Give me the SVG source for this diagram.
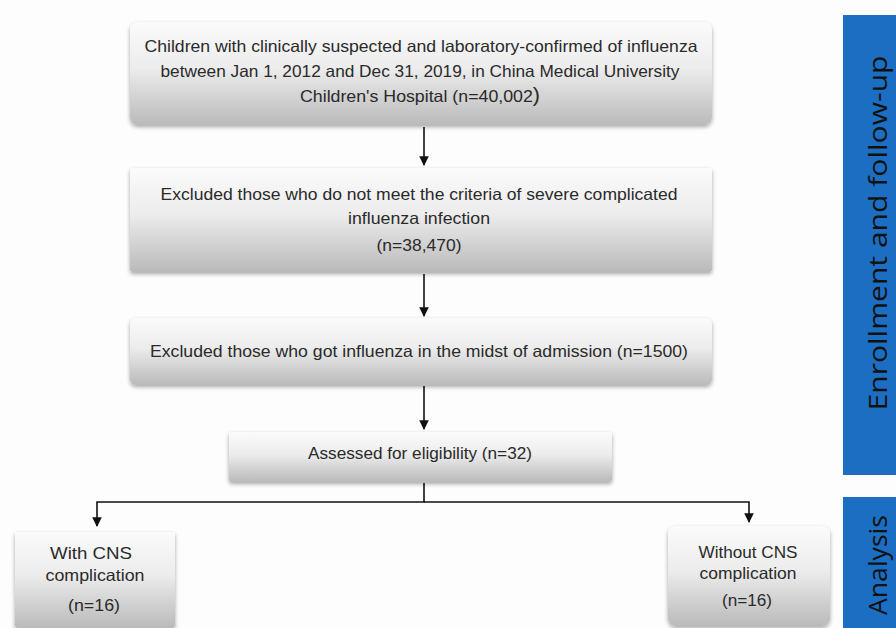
<svg xmlns="http://www.w3.org/2000/svg" width="896" height="628" viewBox="0 0 896 628">
<defs>
<linearGradient id="g" x1="0" y1="0" x2="0" y2="1">
<stop offset="0" stop-color="#fbfbfb"/>
<stop offset="0.45" stop-color="#ececec"/>
<stop offset="1" stop-color="#bababa"/>
</linearGradient>
<filter id="sh" x="-5%" y="-10%" width="110%" height="130%">
<feGaussianBlur in="SourceAlpha" stdDeviation="2"/>
<feOffset dx="0" dy="2" result="b"/>
<feComponentTransfer><feFuncA type="linear" slope="0.35"/></feComponentTransfer>
<feMerge><feMergeNode/><feMergeNode in="SourceGraphic"/></feMerge>
</filter>
<marker id="ah" viewBox="0 0 10 10" refX="9" refY="5" markerWidth="6" markerHeight="6" orient="auto" markerUnits="strokeWidth">
<path d="M0,0 L10,5 L0,10 z" fill="#111"/>
</marker>
<style>
.box{fill:url(#g);filter:url(#sh);}
.t{font-family:"Liberation Sans","DejaVu Sans",sans-serif;font-size:16.5px;fill:#2a2a2a;text-anchor:middle;}
.c{fill:none;stroke:#111;stroke-width:1.6;}
.bar{fill:#1b6ec2;}
.bt{font-family:"Open Sans","Liberation Sans",sans-serif;font-size:26px;fill:#111;text-anchor:middle;}
</style>
</defs>
<rect width="896" height="628" fill="#fdfdfd"/>

<g id="node1">
<rect class="box" x="130" y="22" width="582" height="103" rx="8"/>
<text class="t" x="421" y="52" textLength="553" lengthAdjust="spacingAndGlyphs">Children with clinically suspected and laboratory-confirmed of influenza</text>
<text class="t" x="420" y="77" textLength="519" lengthAdjust="spacingAndGlyphs">between Jan 1, 2012 and Dec 31, 2019, in China Medical University</text>
<text class="t" x="420" y="102" textLength="240" lengthAdjust="spacingAndGlyphs">Children's Hospital (n=40,002<tspan font-size="20">)</tspan></text>
</g>

<g id="node2">
<rect class="box" x="130" y="168" width="582" height="104" rx="3"/>
<text class="t" x="419" y="200" textLength="517" lengthAdjust="spacingAndGlyphs">Excluded those who do not meet the criteria of severe complicated</text>
<text class="t" x="419" y="224" textLength="142" lengthAdjust="spacingAndGlyphs">influenza infection</text>
<text class="t" x="419" y="251" textLength="85" lengthAdjust="spacingAndGlyphs">(n=38,470)</text>
</g>

<g id="node3">
<rect class="box" x="130" y="318" width="582" height="67" rx="6"/>
<text class="t" x="419" y="357" textLength="538" lengthAdjust="spacingAndGlyphs">Excluded those who got influenza in the midst of admission  (n=1500)</text>
</g>

<g id="node4">
<rect class="box" x="229" y="432" width="383" height="50" rx="3"/>
<text class="t" x="420" y="459" textLength="224" lengthAdjust="spacingAndGlyphs">Assessed for eligibility (n=32)</text>
</g>

<g id="node5">
<rect class="box" x="15" y="532" width="160" height="96" rx="3"/>
<text class="t" x="91" y="559" textLength="82" lengthAdjust="spacingAndGlyphs">With CNS</text>
<text class="t" x="95" y="581" textLength="99" lengthAdjust="spacingAndGlyphs">complication</text>
<text class="t" x="94" y="611" textLength="52" lengthAdjust="spacingAndGlyphs">(n=16)</text>
</g>

<g id="node6">
<rect class="box" x="668" y="526" width="162" height="100" rx="8"/>
<text class="t" x="748" y="558" textLength="99" lengthAdjust="spacingAndGlyphs">Without CNS</text>
<text class="t" x="748" y="579" textLength="97" lengthAdjust="spacingAndGlyphs">complication</text>
<text class="t" x="747" y="606" textLength="50" lengthAdjust="spacingAndGlyphs">(n=16)</text>
</g>

<g id="bars">
<rect class="bar" x="843" y="15" width="53" height="460"/>
<text class="bt" transform="translate(887,233) rotate(-90)" textLength="355" lengthAdjust="spacingAndGlyphs">Enrollment and follow-up</text>
<rect class="bar" x="843" y="497" width="53" height="131"/>
<text class="bt" transform="translate(887,565) rotate(-90)" textLength="100" lengthAdjust="spacingAndGlyphs">Analysis</text>
</g>

<g id="connectors">
<line class="c" x1="424" y1="127" x2="424" y2="165" marker-end="url(#ah)"/>
<line class="c" x1="424" y1="274" x2="424" y2="316" marker-end="url(#ah)"/>
<line class="c" x1="424" y1="386" x2="424" y2="429" marker-end="url(#ah)"/>
<polyline class="c" points="424,483 424,502 97,502 97,526" marker-end="url(#ah)"/>
<polyline class="c" points="424,502 749,502 749,522" marker-end="url(#ah)"/>
</g>
</svg>
